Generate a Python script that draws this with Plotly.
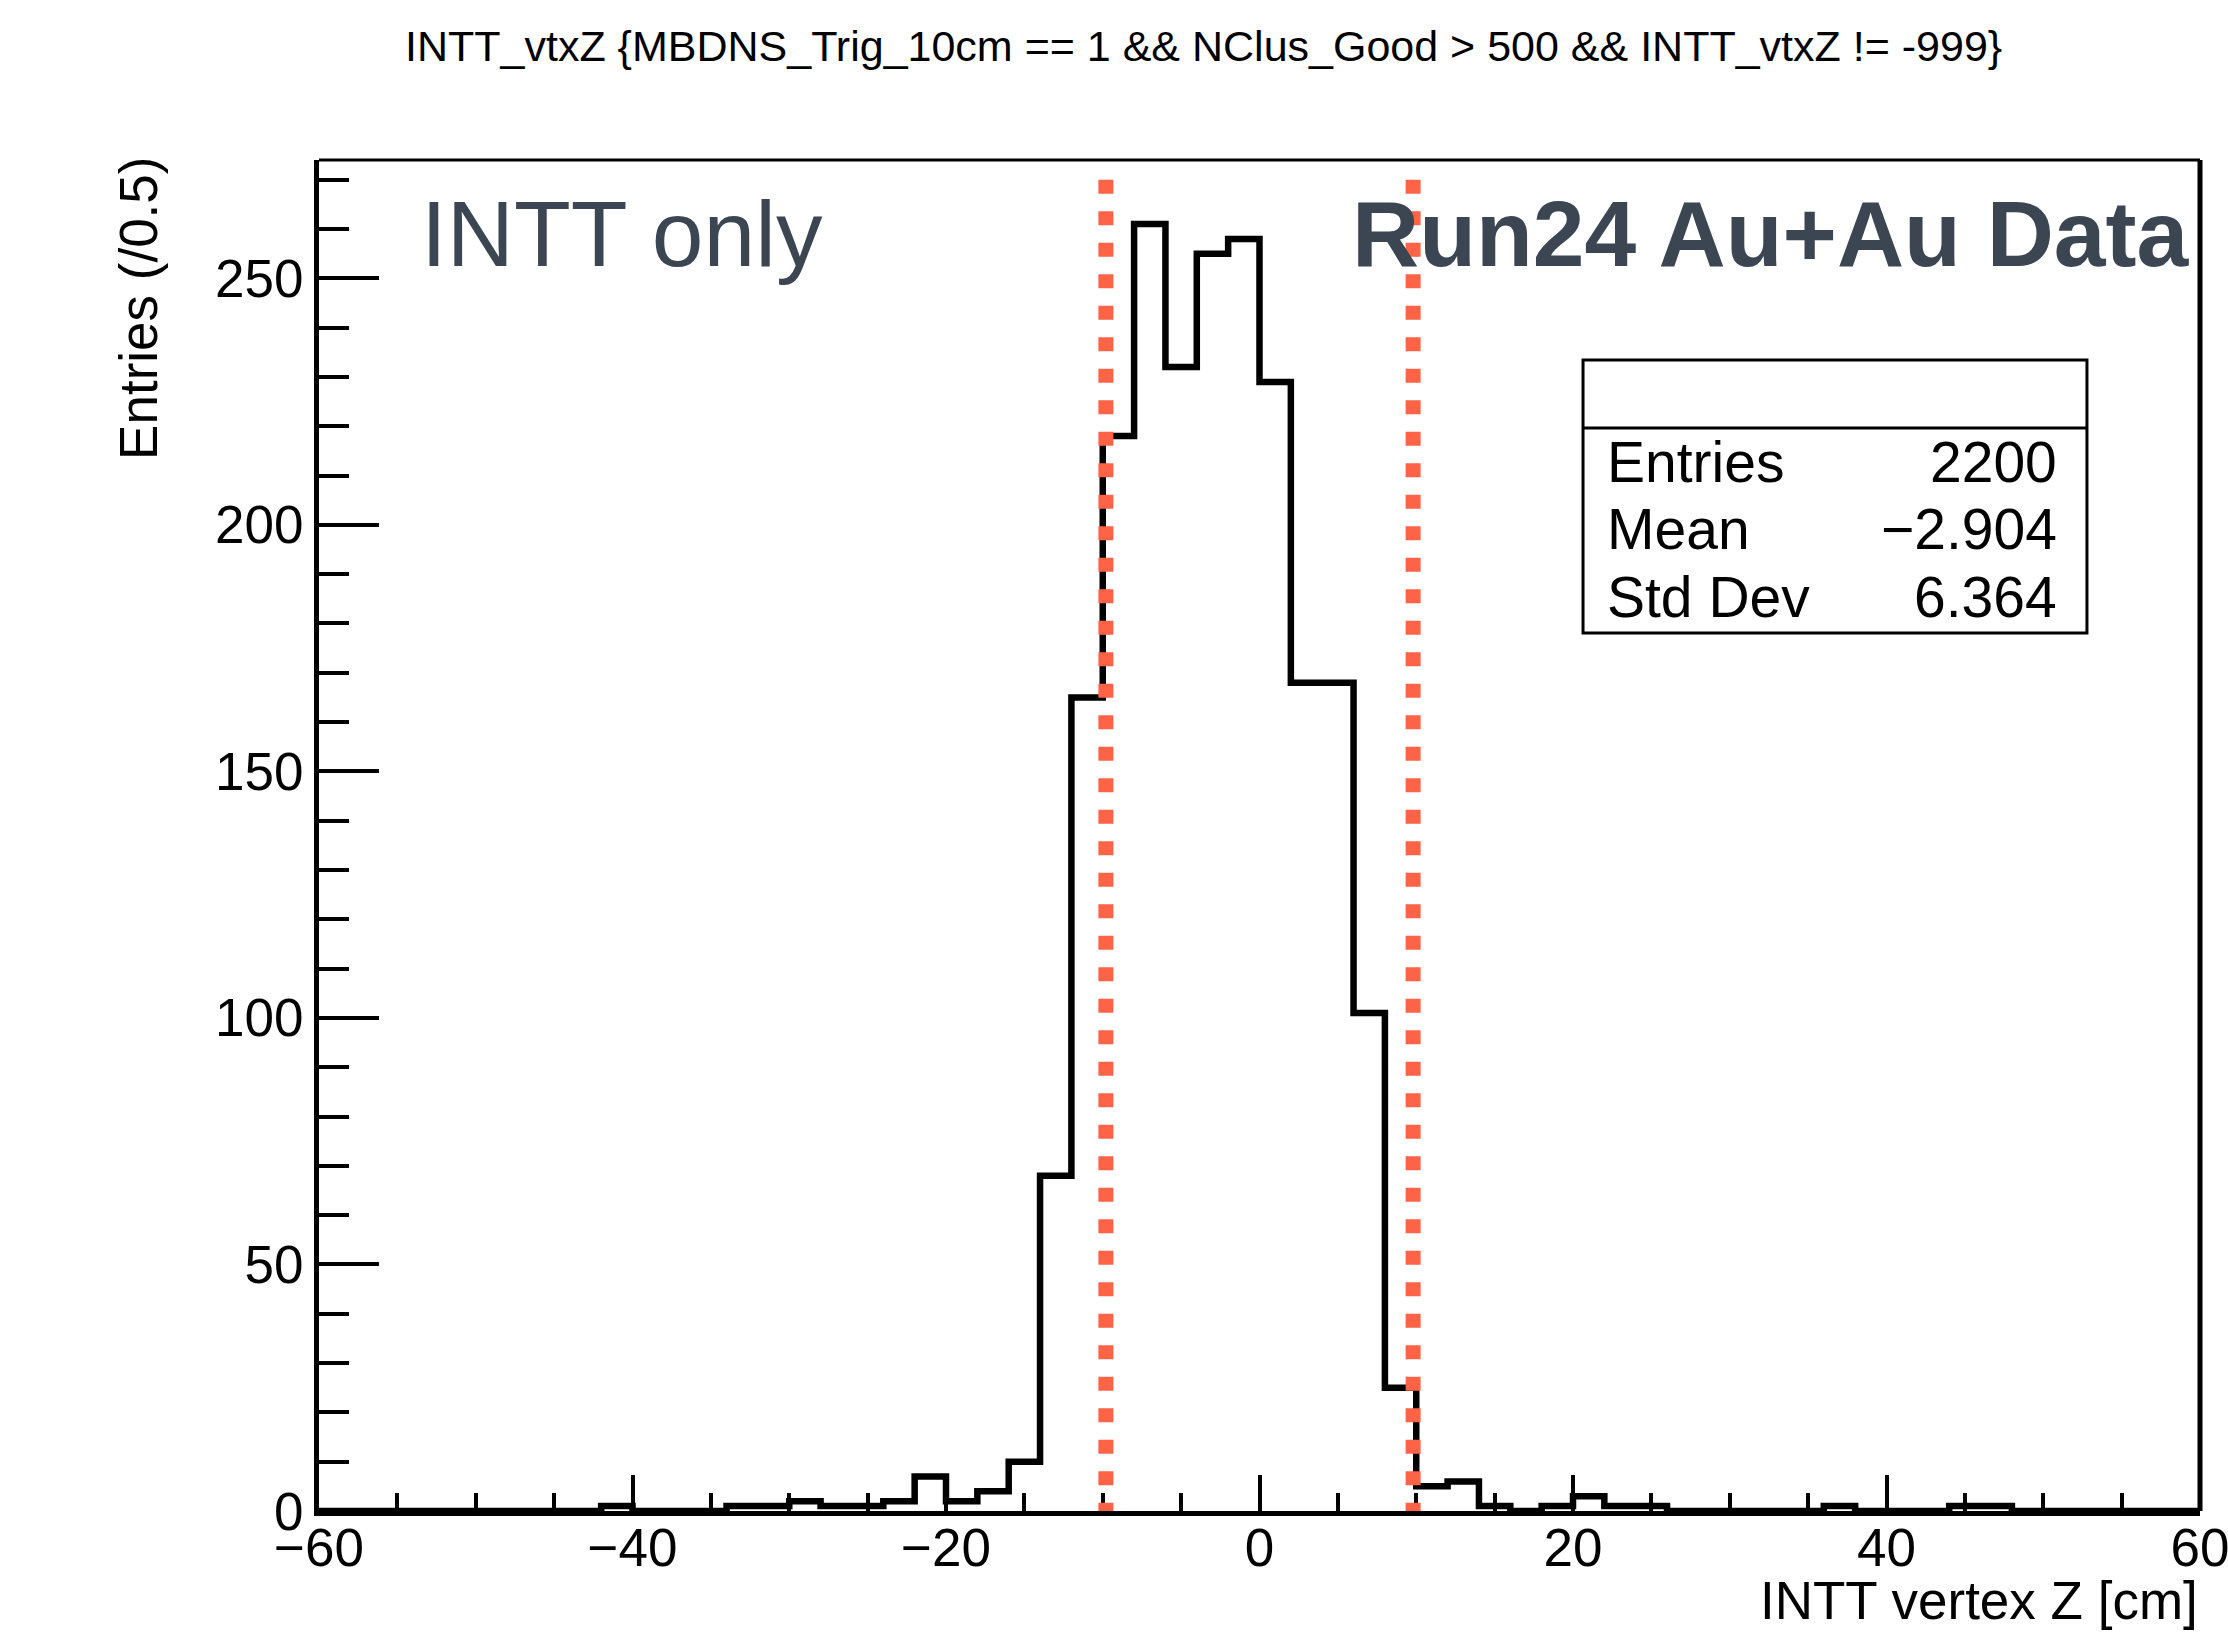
import plotly.graph_objects as go

# ---------------- data ----------------
# histogram bins: 2 cm wide from -60 to 60 cm
z_edges = list(range(-60, 62, 2))
counts = [
    0, 0, 0, 0, 0, 0, 0, 0, 0,        # -60 .. -42
    1, 0, 0, 0,                       # -42 .. -34
    1, 1, 2, 1, 1, 2, 7, 2, 4, 10,    # -34 .. -14
    68, 165, 218, 261, 232, 255, 258, # -14 .. 0
    229, 168, 168, 101, 25,           # 0 .. 10
    5, 6, 1, 0, 1, 3, 1, 1,           # 10 .. 26
    0, 0, 0, 0, 0, 1, 0, 0, 0,        # 26 .. 44
    1, 1, 0, 0, 0, 0, 0, 0            # 44 .. 60
]
vtx_cuts = [-9.8, 9.8]
cut_line_top = 270

stat_labels = ["Entries", "Mean", "Std Dev"]
stat_values = ["2200", "\u22122.904", "6.364"]

title_text = "INTT_vtxZ {MBDNS_Trig_10cm == 1 && NClus_Good > 500 && INTT_vtxZ != -999}"
x_title = "INTT vertex Z [cm]"
y_title = "Entries (/0.5)"
label_left = "INTT only"
label_right = "<b>Run24 Au+Au Data</b>"

FONT = "Liberation Sans, Arial, Helvetica, sans-serif"
SLATE = "#3C4653"
RED = "#FF6347"

fig = go.Figure()

fig.add_trace(go.Scatter(
    x=z_edges,
    y=counts + [counts[-1]],
    mode="lines",
    line=dict(color="black", width=6.5, shape="hv"),
    hoverinfo="skip",
    showlegend=False,
))

shapes = []
for c in vtx_cuts:
    shapes.append(dict(type="line", xref="x", yref="y",
                       x0=c, x1=c, y0=cut_line_top, y1=0,
                       line=dict(color=RED, width=15, dash="14px,17.5px")))
# top & right frame
shapes.append(dict(type="line", xref="paper", yref="paper", x0=0, x1=1, y0=1, y1=1,
                   line=dict(color="black", width=3)))
shapes.append(dict(type="line", xref="paper", yref="paper", x0=1, x1=1, y0=0, y1=1,
                   line=dict(color="black", width=5)))
# stats box
box_x0, box_x1, box_y0, box_y1, box_div = 0.672, 0.9399, 0.6499, 0.852, 0.8016
shapes.append(dict(type="rect", xref="paper", yref="paper",
                   x0=box_x0, x1=box_x1, y0=box_y0, y1=box_y1,
                   line=dict(color="black", width=3), fillcolor="white"))
shapes.append(dict(type="line", xref="paper", yref="paper",
                   x0=box_x0, x1=box_x1, y0=box_div, y1=box_div,
                   line=dict(color="black", width=3)))

annotations = []
annotations.append(dict(text=title_text, xref="paper", yref="paper",
                        x=0.470, y=1.0844, xanchor="center", yanchor="middle",
                        showarrow=False, font=dict(family=FONT, size=43, color="black")))
annotations.append(dict(text=x_title, xref="paper", yref="paper",
                        x=1.0, y=-0.0659, xanchor="right", yanchor="middle",
                        showarrow=False, font=dict(family=FONT, size=53, color="black")))
annotations.append(dict(text=y_title, xref="paper", yref="paper",
                        x=-0.0957, y=0.8905, xanchor="center", yanchor="middle",
                        textangle=-90,
                        showarrow=False, font=dict(family=FONT, size=53, color="black")))
annotations.append(dict(text=label_left, xref="paper", yref="paper",
                        x=(419 - 319) / 1881, y=(1511 - 234) / 1351,
                        xanchor="left", yanchor="middle",
                        showarrow=False, font=dict(family=FONT, size=93, color=SLATE)))
annotations.append(dict(text=label_right, xref="paper", yref="paper",
                        x=(1350 - 319) / 1881, y=(1511 - 234) / 1351,
                        xanchor="left", yanchor="middle",
                        showarrow=False, font=dict(family=FONT, size=93, color=SLATE)))
row_y = [0.7768, 0.7272, 0.6769]
for lab, val, yy in zip(stat_labels, stat_values, row_y):
    annotations.append(dict(text=lab, xref="paper", yref="paper",
                            x=0.6837, y=yy, xanchor="left", yanchor="middle",
                            showarrow=False, font=dict(family=FONT, size=57, color="black")))
    annotations.append(dict(text=val, xref="paper", yref="paper",
                            x=0.925, y=yy, xanchor="right", yanchor="middle",
                            showarrow=False, font=dict(family=FONT, size=57, color="black")))

fig.update_layout(
    width=2228, height=1632,
    margin=dict(l=319, r=28, t=160, b=121, pad=0, autoexpand=False),
    paper_bgcolor="white", plot_bgcolor="white",
    font=dict(family=FONT, color="black"),
    shapes=shapes, annotations=annotations,
    showlegend=False,
)
fig.update_xaxes(
    range=[-60, 60], tick0=-60, dtick=20, automargin=False,
    ticks="inside", ticklen=36, tickwidth=4, tickcolor="black",
    showline=True, linewidth=5, linecolor="black",
    showgrid=False, zeroline=False,
    ticklabeloverflow="allow", ticklabelstandoff=-14,
    tickfont=dict(family=FONT, size=53, color="black"),
    minor=dict(dtick=5, tick0=-60, ticks="inside", ticklen=18, tickwidth=4,
               tickcolor="black", showgrid=False),
)
fig.update_yaxes(
    range=[0, 274], tick0=0, dtick=50, automargin=False,
    ticks="inside", ticklen=60, tickwidth=4, tickcolor="black",
    showline=True, linewidth=5, linecolor="black",
    showgrid=False, zeroline=False,
    tickfont=dict(family=FONT, size=53, color="black"),
    minor=dict(dtick=10, tick0=0, ticks="inside", ticklen=30, tickwidth=4,
               tickcolor="black", showgrid=False),
)

fig.write_html("out.html")
